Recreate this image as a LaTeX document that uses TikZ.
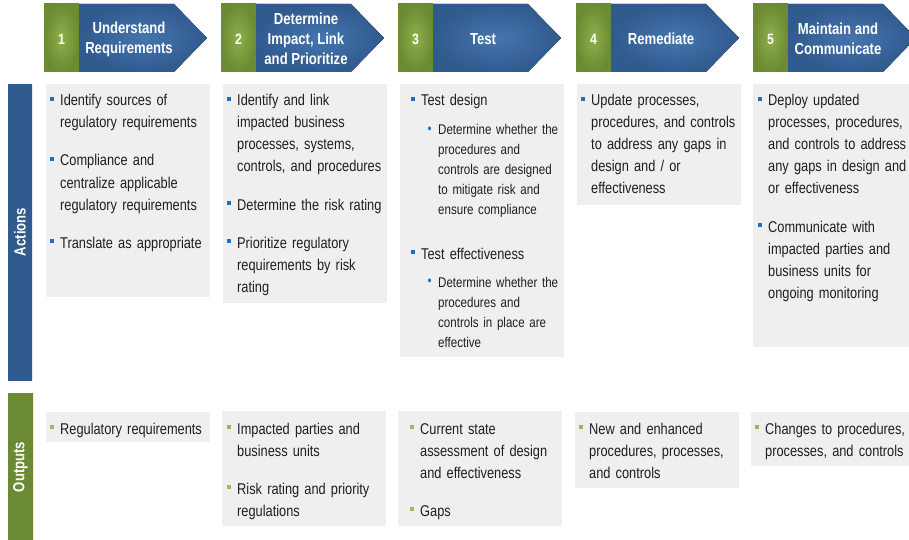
\documentclass[tikz,border=0pt]{standalone}
\usepackage{fontspec}
\setmainfont{Liberation Sans}[FakeStretch=0.82]
\usepackage{xcolor, tikz}

\definecolor{blueMid}{HTML}{4575AF}
\definecolor{blueEdge}{HTML}{315A8E}
\definecolor{greenMid}{HTML}{8DB04A}
\definecolor{greenEdge}{HTML}{6C8A33}
\definecolor{boxGray}{HTML}{EFEFEF}
\definecolor{textGray}{HTML}{1F1F1F}
\definecolor{bulBlue}{HTML}{1F6FC0}
\definecolor{bulGreen}{HTML}{97BC5A}

\newcommand{\actbul}{\llap{\textcolor{bulBlue}{\rule[4.7pt]{4pt}{4pt}}\hspace{6.7pt}}}
\newcommand{\outbul}{\llap{\textcolor{bulGreen}{\rule[4.7pt]{4pt}{4pt}}\hspace{6.7pt}}}
\newcommand{\subbul}{\llap{\textcolor{bulBlue}{\raisebox{1.2pt}{\fontsize{14}{14}\selectfont\textbullet}}\hspace{6.5pt}}}

\begin{document}
\begin{tikzpicture}[x=1pt,y=-1pt]
		\tikzstyle{Box} = [fill=boxGray]
		\tikzstyle{Arrow} = [shading=radial, inner color=blueMid, outer color=blueEdge]
		\tikzstyle{Tab} = [shading=radial, inner color=greenMid, outer color=greenEdge]
		\tikzstyle{Head} = [text=white, font=\bfseries\fontsize{16}{20}\selectfont, align=center, inner sep=0]
		\tikzstyle{Num} = [text=white, font=\bfseries\fontsize{15}{18}\selectfont, inner sep=0]
		\tikzstyle{Bar} = [text=white, font=\bfseries\fontsize{16}{18}\selectfont, rotate=90, inner sep=0]
		\tikzstyle{Act} = [anchor=base west, inner sep=0, text width=200pt, align=left, text=textGray, font=\fontsize{15.6}{22}\selectfont]
		\tikzstyle{Sub} = [Act, font=\fontsize{14.1}{20}\selectfont]
		
		\useasboundingbox (0,0) rectangle (909,540);
		
		% steps
		\fill[Tab] (44,4) rectangle (79,72);
		\fill[Arrow] (79,4) -- (174,4) -- (207,38) -- (174,72) -- (79,72) -- cycle;
		\node (num1) [Num] at (61.5,39) {1};
		\node (step1) [Head] at (129,39) {Understand\\Requirements};
		
		\fill[Tab] (221,4) rectangle (256,72);
		\fill[Arrow] (256,4) -- (351,4) -- (384,38) -- (351,72) -- (256,72) -- cycle;
		\node (num2) [Num] at (238.5,39) {2};
		\node (step2) [Head] at (306,39) {Determine\\Impact, Link\\and Prioritize};
		
		\fill[Tab] (398,4) rectangle (433,72);
		\fill[Arrow] (433,4) -- (528,4) -- (561,38) -- (528,72) -- (433,72) -- cycle;
		\node (num3) [Num] at (415.5,39) {3};
		\node (step3) [Head] at (483,39) {Test};
		
		\fill[Tab] (576,4) rectangle (611,72);
		\fill[Arrow] (611,4) -- (706,4) -- (739,38) -- (706,72) -- (611,72) -- cycle;
		\node (num4) [Num] at (593.5,39) {4};
		\node (step4) [Head] at (661,39) {Remediate};
		
		\fill[Tab] (753,4) rectangle (788,72);
		\fill[Arrow] (788,4) -- (883,4) -- (916,38) -- (883,72) -- (788,72) -- cycle;
		\node (num5) [Num] at (770.5,39) {5};
		\node (step5) [Head] at (838,39) {Maintain and\\Communicate};
		
		% side bars
		\fill[top color=blueEdge, middle color=blueMid, bottom color=blueEdge] (8,85) rectangle (32,380);
		\node (actions) [Bar] at (20,232) {Actions};
		\fill[top color=greenEdge, middle color=greenMid, bottom color=greenEdge] (8,393) rectangle (33,545);
		\node (outputs) [Bar] at (20.5,467) {Outputs};
		
		% actions
		\fill[Box] (46,84) rectangle (210,297);
		\fill[Box] (223,84) rectangle (387,303);
		\fill[Box] (400,84) rectangle (564,357);
		\fill[Box] (577,84) rectangle (741,205);
		\fill[Box] (753,84) rectangle (920,347);
		
		\node (act1a) [Act] at (60,106) {\actbul Identify sources of\\regulatory requirements};
		\node (act1b) [Act] at (60,166) {\actbul Compliance and\\centralize applicable\\regulatory requirements};
		\node (act1c) [Act] at (60,248) {\actbul Translate as appropriate};
		
		\node (act2a) [Act] at (237,106) {\actbul Identify and link\\impacted business\\processes, systems,\\controls, and procedures};
		\node (act2b) [Act] at (237,210) {\actbul Determine the risk rating};
		\node (act2c) [Act] at (237,248) {\actbul Prioritize regulatory\\requirements by risk\\rating};
		
		\node (act3a) [Act] at (421,106) {\actbul Test design};
		\node (sub3a) [Sub] at (438,135) {\subbul Determine whether the\\procedures and\\controls are designed\\to mitigate risk and\\ensure compliance};
		\node (act3b) [Act] at (421,259) {\actbul Test effectiveness};
		\node (sub3b) [Sub] at (438,287) {\subbul Determine whether the\\procedures and\\controls in place are\\effective};
		
		\node (act4a) [Act] at (591,106) {\actbul Update processes,\\procedures, and controls\\to address any gaps in\\design and / or\\effectiveness};
		
		\node (act5a) [Act] at (768,106) {\actbul Deploy updated\\processes, procedures,\\and controls to address\\any gaps in design and /\\or effectiveness};
		\node (act5b) [Act] at (768,232) {\actbul Communicate with\\impacted parties and\\business units for\\ongoing monitoring};
		
		% outputs
		\fill[Box] (46,412) rectangle (210,442);
		\fill[Box] (222,411) rectangle (386,526);
		\fill[Box] (398,411) rectangle (562,526);
		\fill[Box] (575,412) rectangle (739,488);
		\fill[Box] (751,412) rectangle (920,466);
		
		\node (out1a) [Act] at (60,434) {\outbul Regulatory requirements};
		\node (out2a) [Act] at (237,434) {\outbul Impacted parties and\\business units};
		\node (out2b) [Act] at (237,494) {\outbul Risk rating and priority\\regulations};
		\node (out3a) [Act] at (420,434) {\outbul Current state\\assessment of design\\and effectiveness};
		\node (out3b) [Act] at (420,516) {\outbul Gaps};
		\node (out4a) [Act] at (589,434) {\outbul New and enhanced\\procedures, processes,\\and controls};
		\node (out5a) [Act] at (765,434) {\outbul Changes to procedures,\\processes, and controls};
\end{tikzpicture}
\end{document}
